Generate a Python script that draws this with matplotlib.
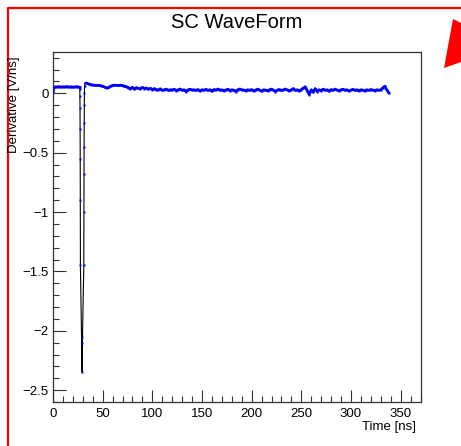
import numpy as np
import matplotlib
matplotlib.use("Agg")
import matplotlib.pyplot as plt
from matplotlib.ticker import MultipleLocator
from matplotlib.patches import Polygon
from matplotlib.lines import Line2D

plt.rcParams['font.family'] = ['Liberation Sans', 'DejaVu Sans']

# ---- data ----
pre_t = [0, 1, 2, 4, 6, 8, 10, 12, 14, 16, 18, 20, 22, 24, 26]
pre_v = [0.010, 0.050, 0.055, 0.054, 0.056, 0.053, 0.055, 0.054, 0.057,
         0.053, 0.055, 0.052, 0.054, 0.056, 0.053]

pulse_t = [26.8, 27.0, 27.1, 27.2, 27.3, 27.4, 27.5, 27.6, 28.9, 29.3, 29.7,
           31.0, 31.1, 31.2, 31.3, 31.4, 31.5, 31.6, 31.8, 32.2]
pulse_v = [0.05, 0.04, -0.02, -0.12, -0.30, -0.55, -0.90, -1.45, -2.10, -2.35,
           -2.05, -1.45, -1.00, -0.68, -0.45, -0.25, -0.10, 0.00, 0.06, 0.09]

post_t = list(range(34, 339, 2))
post_v = [0.085, 0.078, 0.074, 0.070, 0.068, 0.066, 0.067, 0.064, 0.060, 0.052,
          0.045, 0.050, 0.060, 0.066, 0.068, 0.067, 0.066, 0.068, 0.065, 0.060,
          0.055, 0.048, 0.040, 0.050, 0.035, 0.048, 0.042, 0.038, 0.050, 0.040,
          0.045, 0.035, 0.042, 0.030, 0.040, 0.032, 0.028, 0.038, 0.025, 0.030,
          0.035, 0.025, 0.030, 0.028, 0.034, 0.022, 0.030, 0.036, 0.026, 0.030,
          0.015, 0.030, 0.034, 0.028, 0.030, 0.025, 0.032, 0.020, 0.030, 0.027,
          0.033, 0.024, 0.030, 0.018, 0.032, 0.028, 0.036, 0.026, 0.030, 0.022,
          0.028, 0.034, 0.022, 0.030, 0.026, 0.015, 0.030, 0.036, 0.030, 0.028,
          0.022, 0.030, 0.025, 0.032, 0.020, 0.028, 0.035, 0.026, 0.018, 0.030,
          0.027, 0.022, 0.030, 0.035, 0.025, 0.015, 0.028, 0.032, 0.024, 0.030,
          0.036, 0.028, 0.022, 0.030, 0.040, 0.025, 0.030, 0.020, 0.032, 0.045,
          0.055, 0.020, -0.010, 0.030, 0.010, 0.040, 0.015, 0.030, 0.022, 0.035,
          0.025, 0.030, 0.018, 0.032, 0.026, 0.035, 0.028, 0.022, 0.030, 0.034,
          0.026, 0.030, 0.020, 0.028, 0.033, 0.025, 0.030, 0.022, 0.030, 0.027,
          0.020, 0.030, 0.025, 0.032, 0.028, 0.022, 0.030, 0.026, 0.030, 0.045,
          0.060, 0.030, 0.005]

t = np.array(pre_t + pulse_t + post_t, dtype=float)
v = np.array(pre_v + pulse_v + post_v, dtype=float)

title = "SC WaveForm"
xlabel = "Time [ns]"
ylabel = "Derivative [V/ns]"

# ---- figure ----
W, H = 461, 446
fig = plt.figure(figsize=(W / 100, H / 100), dpi=100)
ax = fig.add_axes([53 / W, 1 - 402 / H, (420.5 - 53) / W, (402 - 52) / H])

ax.plot(t, v, color='black', lw=0.8, zorder=2)
ax.plot(t, v, ls='none', marker='s', ms=1.7, mec='none', mfc='#0000ff', zorder=3)
ax.plot(t[t > 33], v[t > 33], color='#0000ff', lw=2.0, zorder=2.5)
ax.plot(t[t < 27], v[t < 27], color='#0000ff', lw=2.0, zorder=2.5)

ax.set_xlim(0, 370)
ax.set_ylim(-2.6, 0.348)

ax.xaxis.set_major_locator(MultipleLocator(50))
ax.xaxis.set_minor_locator(MultipleLocator(10))
ax.yaxis.set_major_locator(MultipleLocator(0.5))
ax.yaxis.set_minor_locator(MultipleLocator(0.1))
ax.tick_params(which='both', direction='in', top=False, right=False,
               color='#333333', width=0.8, labelsize=9.5)
ax.tick_params(which='major', length=9)
ax.tick_params(which='minor', length=4.5)
ax.tick_params(axis='x', pad=4)
ax.tick_params(axis='y', pad=3)
ax.set_yticks([-2.5, -2, -1.5, -1, -0.5, 0])
ax.set_yticklabels(['\u22122.5', '\u22122', '\u22121.5', '\u22121', '\u22120.5', '0'])
for s in ax.spines.values():
    s.set_color('#333333')
    s.set_linewidth(0.9)

fig.text(237 / W, 1 - 22 / H, title, ha='center', va='center', fontsize=14.5)
fig.text(416 / W, 1 - 427 / H, xlabel, ha='right', va='center', fontsize=9.5)
fig.text(14 / W, 1 - 56 / H, ylabel, ha='center', va='top', rotation=90,
         fontsize=9.5)

# red frame
fig.add_artist(Line2D([7.5 / W, 7.5 / W, 1.0], [0, 1 - 8 / H, 1 - 8 / H],
                      transform=fig.transFigure, color='#ff0000', lw=1.6))
poly = Polygon([[453 / W, 1 - 19 / H], [1.0, 1 - 23 / H], [1.0, 1 - 62 / H],
                [444 / W, 1 - 68 / H]], closed=True, transform=fig.transFigure,
               facecolor='#ff0000', edgecolor='none')
fig.add_artist(poly)

fig.savefig('out.png', dpi=100)
